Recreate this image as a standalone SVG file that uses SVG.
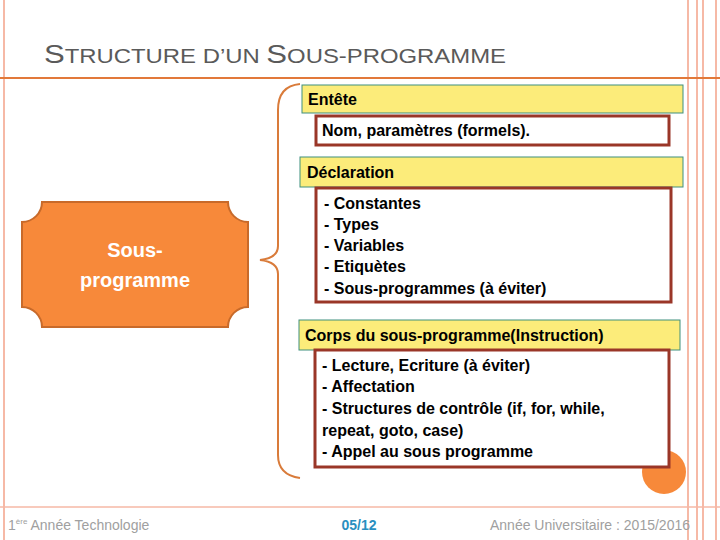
<svg xmlns="http://www.w3.org/2000/svg" width="720" height="540" viewBox="0 0 720 540">
<style>
.bar{fill:#fcec7a;stroke:#3f8f7f;stroke-width:1}
.box{fill:#fff;stroke:#9a3628;stroke-width:3}
.t{font-family:"Liberation Sans",Arial,sans-serif;font-weight:bold;font-size:16px;fill:#000}
.f{font-family:"Liberation Sans",Arial,sans-serif;font-size:14px;fill:#a0a0a0}
</style>
<rect width="720" height="540" fill="#fff"/>
<g stroke="#f6b9a6" stroke-width="2" fill="none">
<line x1="4" y1="0" x2="4" y2="540"/>
<line x1="688" y1="0" x2="688" y2="540"/>
<line x1="697" y1="0" x2="697" y2="540"/>
<line x1="703" y1="0" x2="703" y2="540"/>
<line x1="716" y1="0" x2="716" y2="540"/>
<line x1="0" y1="507" x2="720" y2="507" stroke-width="1.5"/>
</g>
<line x1="0" y1="78" x2="720" y2="78" stroke="#e2793a" stroke-width="2"/>
<text x="44" y="63" font-family="'Liberation Sans',Arial,sans-serif" font-size="20" fill="#5a5a5a" textLength="462" lengthAdjust="spacingAndGlyphs"><tspan font-size="26">S</tspan>TRUCTURE D’UN <tspan font-size="26">S</tspan>OUS-PROGRAMME</text>
<circle cx="664" cy="472" r="22" fill="#f7893a"/>
<g id="sous-programme">
<path d="M42,202 H228 A20,20 0 0 0 248,222 V307 A20,20 0 0 0 228,327 H42 A20,20 0 0 0 22,307 V222 A20,20 0 0 0 42,202 Z" fill="#f7893a" stroke="#c86a2a" stroke-width="2"/>
<text x="135" y="257" text-anchor="middle" font-family="'Liberation Sans',Arial,sans-serif" font-size="20" font-weight="bold" fill="#fff">Sous-</text>
<text x="135" y="287" text-anchor="middle" font-family="'Liberation Sans',Arial,sans-serif" font-size="20" font-weight="bold" fill="#fff">programme</text>
</g>
<g id="connectors">
<path d="M300,84 Q278,86 278,110 V246 Q278,258 260,260 Q278,262 278,274 V455 Q278,475 300,478" fill="none" stroke="#d97b3a" stroke-width="2"/>
</g>
<g id="entete"><rect class="bar" x="302" y="85" width="381" height="28"/><text class="t" x="308" y="105">Entête</text></g>
<g id="nom"><rect class="box" x="316" y="116" width="353" height="29"/><text class="t" x="322" y="136">Nom, paramètres (formels).</text></g>
<g id="declaration"><rect class="bar" x="300" y="157" width="383" height="30"/><text class="t" x="307" y="178">Déclaration</text></g>
<g id="decl-list"><rect class="box" x="316" y="188" width="355" height="114"/>
<text class="t" x="324" y="209">- Constantes</text>
<text class="t" x="324" y="230">- Types</text>
<text class="t" x="324" y="251">- Variables</text>
<text class="t" x="324" y="272">- Etiquètes</text>
<text class="t" x="324" y="294">- Sous-programmes (à éviter)</text></g>
<g id="corps"><rect class="bar" x="299" y="320" width="381" height="30"/><text class="t" x="305" y="341">Corps du sous-programme(Instruction)</text></g>
<g id="corps-list"><rect class="box" x="315" y="350" width="354" height="117"/>
<text class="t" x="322" y="371">- Lecture, Ecriture (à éviter)</text>
<text class="t" x="322" y="392">- Affectation</text>
<text class="t" x="322" y="414">- Structures de contrôle (if, for, while,</text>
<text class="t" x="322" y="436">repeat, goto, case)</text>
<text class="t" x="322" y="457">- Appel au sous programme</text></g>
<text class="f" x="8" y="530">1<tspan font-size="8" dy="-6">ère</tspan><tspan dy="6"> Année Technologie</tspan></text>
<text x="359" y="530" text-anchor="middle" font-family="'Liberation Sans',Arial,sans-serif" font-size="14" font-weight="bold" fill="#2a8fc0">05/12</text>
<text class="f" x="690" y="530" text-anchor="end">Année Universitaire : 2015/2016</text>
</svg>
